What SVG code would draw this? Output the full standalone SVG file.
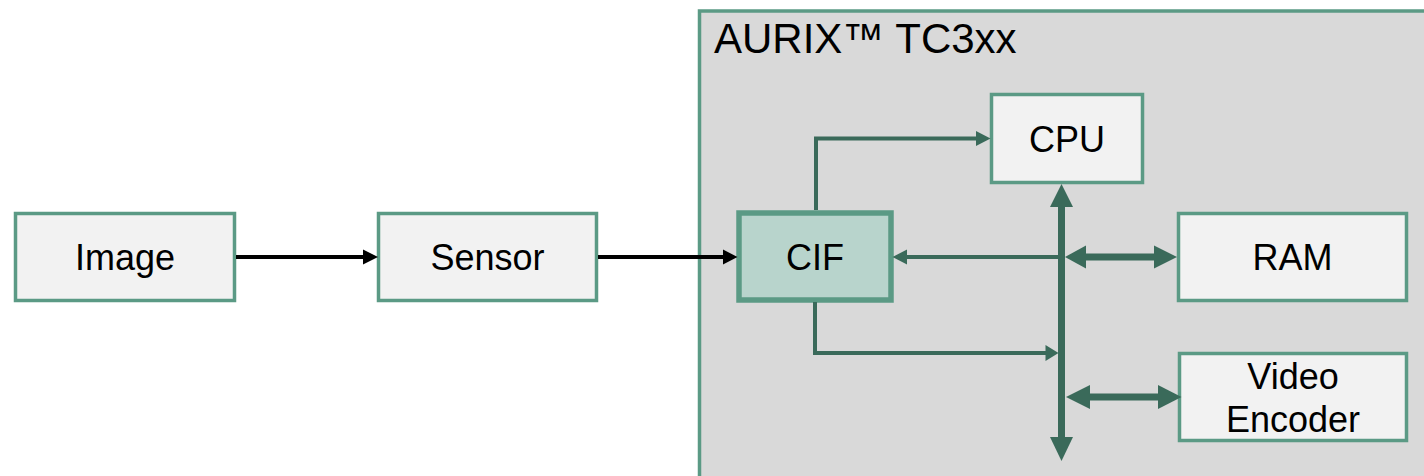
<svg xmlns="http://www.w3.org/2000/svg" width="1424" height="476" viewBox="0 0 1424 476">
<style>
.box{fill:#f2f2f2;stroke:#5b9a85;stroke-width:3.5}
.cif{fill:#b8d4cc;stroke:#5b9a85;stroke-width:5.5}
.chip{fill:#d9d9d9;stroke:#5b9a85;stroke-width:3.5}
.t{font-family:"Liberation Sans",Arial,sans-serif;font-size:36px;fill:#000;text-anchor:middle}
.title{font-family:"Liberation Sans",Arial,sans-serif;font-size:42px;fill:#000}
.blk{stroke:#000;stroke-width:4;fill:none}
.ln{stroke:#3a6a5a;stroke-width:4;fill:none}
.bus{stroke:#3a6a5a;stroke-width:7;fill:none}
.ahb{fill:#000}
.ah{fill:#3a6a5a}
</style>
<rect width="1424" height="476" fill="#ffffff"/>
<g id="chip">
<rect class="chip" x="699.5" y="11" width="740" height="480"/>
<text class="title" x="714" y="53">AURIX™ TC3xx</text>
</g>
<g id="image"><rect class="box" x="15.5" y="213.5" width="219" height="87"/><text class="t" x="125" y="270">Image</text></g>
<g id="sensor"><rect class="box" x="378.5" y="213.5" width="218" height="87"/><text class="t" x="487.5" y="270">Sensor</text></g>
<g id="cif"><rect class="cif" x="739" y="213" width="152" height="87"/><text class="t" x="815" y="270">CIF</text></g>
<g id="cpu"><rect class="box" x="991.5" y="94.5" width="151" height="88"/><text class="t" x="1067" y="151.5">CPU</text></g>
<g id="ram"><rect class="box" x="1178.5" y="213.5" width="228" height="87"/><text class="t" x="1292.5" y="270">RAM</text></g>
<g id="video"><rect class="box" x="1179.5" y="353.5" width="227" height="87"/><text class="t" x="1293" y="388.5">Video</text><text class="t" x="1293" y="431.5">Encoder</text></g>
<g id="connectors">
<line class="blk" x1="236" y1="257" x2="365" y2="257"/>
<polygon class="ahb" points="363,249.5 378,257 363,264.5"/>
<line class="blk" x1="598" y1="257" x2="725" y2="257"/>
<polygon class="ahb" points="723,249.5 737.5,257 723,264.5"/>
<polyline class="ln" points="816,210 816,138.5 978,138.5"/>
<polygon class="ah" points="976,131 990.5,138.5 976,146"/>
<line class="ln" x1="1061.5" y1="257" x2="905" y2="257"/>
<polygon class="ah" points="907,249.5 892.5,257 907,264.5"/>
<line class="bus" x1="1061.5" y1="205" x2="1061.5" y2="439"/>
<polygon class="ah" points="1050,207 1061.5,184 1073,207"/>
<polygon class="ah" points="1050,437 1061.5,461 1073,437"/>
<line class="bus" x1="1082" y1="257" x2="1158" y2="257"/>
<polygon class="ah" points="1086,245.5 1065,257 1086,268.5"/>
<polygon class="ah" points="1154,245.5 1177,257 1154,268.5"/>
<polyline class="ln" points="815,302 815,353 1047,353"/>
<polygon class="ah" points="1045.5,345 1058.5,353 1045.5,361"/>
<line class="bus" x1="1087" y1="397" x2="1161" y2="397"/>
<polygon class="ah" points="1090,385 1066,397 1090,409"/>
<polygon class="ah" points="1158,385 1181.5,397 1158,409"/>
</g>
</svg>
